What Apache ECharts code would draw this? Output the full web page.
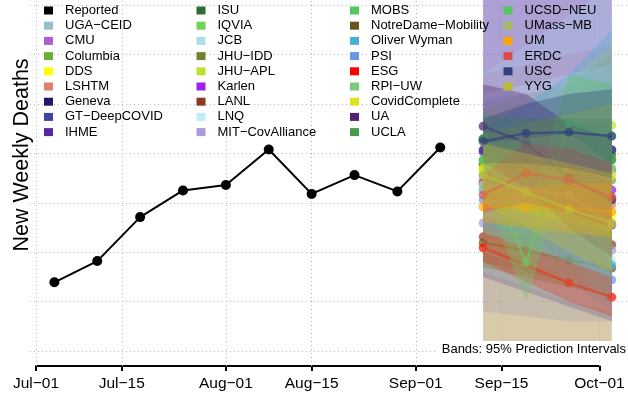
<!DOCTYPE html>
<html>
<head>
<meta charset="utf-8">
<script src="https://cdn.jsdelivr.net/npm/echarts@6/dist/echarts.min.js"></script>
<style>html,body{margin:0;padding:0;background:#fff}#c{width:628px;height:400px}</style>
</head>
<body>
<div id="c"></div>
<script>
// ---------- DATA ----------
const reportedDates = ['2020-07-04','2020-07-11','2020-07-18','2020-07-25','2020-08-01','2020-08-08','2020-08-15','2020-08-22','2020-08-29','2020-09-05'];
const reportedValues = [139, 182, 271, 325, 336, 408, 318, 356, 323, 412];

const forecastDates = ['2020-09-12','2020-09-19','2020-09-26','2020-10-03'];

const modelNames = ['UGA\u2212CEID','CMU','Columbia','DDS','LSHTM','Geneva','GT\u2212DeepCOVID','IHME',
  'ISU','IQVIA','JCB','JHU\u2212IDD','JHU\u2212APL','Karlen','LANL','LNQ','MIT\u2212CovAlliance',
  'MOBS','NotreDame\u2212Mobility','Oliver Wyman','PSI','ESG','RPI\u2212UW','CovidComplete','UA','UCLA',
  'UCSD\u2212NEU','UMass\u2212MB','UM','ERDC','USC','YYG'];
const modelColors = ['#96C1CC','#AD5FD5','#6DAF35','#FFFF00','#E0826A','#2A1466','#3C45A0','#5B27A0',
  '#2E6B36','#6FD356','#ADDCEB','#75802E','#BDE22A','#A21FF0','#8C3A26','#BDEEFA','#AA99DC',
  '#56C65E','#6B5420','#4DAED6','#6A95E0','#FF0000','#7CC97A','#DDE31E','#4F2170','#469B4E',
  '#58C564','#A5BB6A','#FFA500','#DC4B4B','#333F7A','#BDBA36'];

const medianValues = [
  [336,330,320,310],[340,330,322,366],[377,360,350,346],[370,322,290,275],[346,326,310,296],
  [407,407,407,407],[429,417,407,407],[403,387,366,255],[429,417,407,397],[387,380,375,370],
  [356,346,336,326],[377,356,346,387],[366,387,420,457],[340,336,326,326],[231,225,219,215],
  [336,326,316,184],[259,245,225,204],[387,377,362,306],[219,204,184,168],[326,316,306,174],
  [306,265,204,144],[209,174,138,109],[356,346,326,306],[370,366,362,356],[455,421,350,306],
  [429,409,397,387],[387,178,462,435],[336,326,316,257],[292,290,290,282],[316,360,346,312],
  [424,441,443,435],[356,322,287,259]];
const lowerValues = [
  [150,120,90,60],[260,220,200,210],[300,270,240,220],[220,180,150,130],[15,10,5,0],
  [360,340,320,300],[280,240,200,160],[150,120,90,60],[370,340,320,300],[320,300,280,260],
  [160,130,100,80],[250,220,190,180],[300,290,300,300],[250,230,210,190],[180,160,140,120],
  [200,170,140,110],[80,70,60,60],[330,300,270,220],[170,150,130,110],[260,220,180,90],
  [250,200,140,80],[180,140,100,70],[300,280,250,220],[300,280,260,240],[380,330,250,190],
  [380,350,320,300],[330,100,380,340],[10,5,0,0],[260,250,240,230],[280,300,280,250],
  [380,380,370,350],[300,250,200,160]];
const upperValues = [
  [800,850,900,950],[450,480,510,580],[460,480,500,520],[440,420,410,400],[560,580,600,620],
  [450,470,490,510],[510,520,530,550],[800,850,900,950],[490,500,510,520],[450,460,470,480],
  [560,620,680,740],[500,520,540,600],[440,480,550,620],[430,440,450,460],[290,300,310,320],
  [520,540,560,580],[900,950,1000,1100],[450,460,470,420],[270,260,250,240],[450,500,560,650],
  [370,340,290,230],[240,210,180,150],[420,420,410,400],[440,460,480,500],[540,520,460,430],
  [480,470,470,470],[450,260,560,540],[420,430,440,380],[330,330,340,340],[360,420,410,380],
  [470,500,520,530],[420,400,380,360]];

const tickDates = ['2020-07-01','2020-07-15','2020-08-01','2020-08-15','2020-09-01','2020-09-15','2020-10-01'];
const tickLabels = ['Jul\u221201','Jul\u221215','Aug\u221201','Aug\u221215','Sep\u221201','Sep\u221215','Oct\u221201'];
const gridValues = [0,100,200,300,400,500,600,700];

// ---------- HELPERS ----------
const FONT = '"Liberation Sans", Arial, Helvetica, sans-serif';
const BAND_ALPHA = 0.35;
function dayOf(s){const p=s.split('-').map(Number);return (Date.UTC(p[0],p[1]-1,p[2])-Date.UTC(2020,6,1))/86400000;}
function rgba(hex,a){const n=parseInt(hex.slice(1),16);return 'rgba('+(n>>16&255)+','+(n>>8&255)+','+(n&255)+','+a+')';}
const tickDays = tickDates.map(dayOf);
const fDays = forecastDates.map(dayOf);

const series = [];
series.push({type:'line',name:'__grid',data:[],xAxisIndex:0,yAxisIndex:0,silent:true,z:1,
  markLine:{silent:true,symbol:'none',animation:false,label:{show:false},
    lineStyle:{color:'#b8b8b8',type:[1,3],width:1},
    data:[...gridValues.map(v=>({yAxis:v})),...tickDays.map(d=>({xAxis:d}))]}});

series.push({type:'line',name:'Reported',xAxisIndex:0,yAxisIndex:0,z:5,
  data:reportedDates.map((d,i)=>[dayOf(d),reportedValues[i]]),
  symbol:'circle',symbolSize:10,lineStyle:{color:'#000',width:2},itemStyle:{color:'#000'}});

modelNames.forEach((name,i)=>{
  const c = modelColors[i];
  series.push({type:'custom',name:'__band'+i,xAxisIndex:0,yAxisIndex:0,z:10+2*i,silent:true,clip:true,
    data:fDays.map((d,k)=>[d,lowerValues[i][k],upperValues[i][k]]),
    encode:{x:0,y:[1,2]},
    renderItem:(params,api)=>{
      if(params.dataIndex!==0) return;
      const up=[], lo=[];
      for(let k=0;k<fDays.length;k++){
        up.push(api.coord([fDays[k],upperValues[i][k]]));
        lo.push(api.coord([fDays[k],lowerValues[i][k]]));
      }
      return {type:'polygon',shape:{points:up.concat(lo.reverse())},style:{fill:rgba(c,BAND_ALPHA)}};
    }});
  series.push({type:'line',name:name,xAxisIndex:0,yAxisIndex:0,z:11+2*i,
    data:fDays.map((d,k)=>[d,medianValues[i][k]]),symbol:'circle',symbolSize:9,
    lineStyle:{color:c,width:2.5,opacity:0.7},itemStyle:{color:c,opacity:0.7}});
});

const allNames = ['Reported'].concat(modelNames);
const allColors = ['#000000'].concat(modelColors);
const colSplits = [[0,9],[9,18],[18,27],[27,33]];
const colLefts = [44,196.5,350,503.5];
const legends = colSplits.map((s,ci)=>({
  orient:'vertical',left:colLefts[ci],top:4,padding:0,itemWidth:9,itemHeight:8,itemGap:2.2,
  selectedMode:false,icon:'rect',z:200,
  textStyle:{fontSize:13,color:'#000',fontFamily:FONT,padding:[0,0,0,7]},
  data:allNames.slice(s[0],s[1]).map((n,k)=>({name:n,icon:'rect',itemStyle:{color:allColors[s[0]+k],opacity:1}}))
}));

const chart = echarts.init(document.getElementById('c'),null,{renderer:'canvas'});
chart.setOption({
  animation:false,
  backgroundColor:'#fff',
  grid:[{left:30,right:0,top:0,bottom:34},{left:36,right:28.5,top:0,bottom:34}],
  xAxis:[
    {gridIndex:0,type:'value',min:(30-36)/6.125,max:92+28.5/6.125,show:false},
    {gridIndex:1,type:'value',min:0,max:92,
      axisLine:{show:true,lineStyle:{color:'#000',width:2}},
      axisTick:{show:true,customValues:tickDays,length:5,lineStyle:{color:'#000',width:2}},
      axisLabel:{show:true,customValues:tickDays,margin:10,fontSize:15.5,color:'#000',fontFamily:FONT,
        formatter:v=>{const k=tickDays.indexOf(v);return k>=0?tickLabels[k]:'';}},
      splitLine:{show:false}}
  ],
  yAxis:[
    {gridIndex:0,type:'value',min:-30.4,max:710.5,show:false},
    {gridIndex:1,type:'value',min:0,max:1,show:false}
  ],
  legend:legends,
  graphic:[
    {type:'text',x:22,y:155,rotation:Math.PI/2,z:300,
      style:{text:'New Weekly Deaths',font:'21.5px '+FONT,fill:'#000',align:'center',verticalAlign:'middle'}},
    {type:'rect',shape:{x:437,y:341,width:191,height:17},style:{fill:'#fff'},z:300},
    {type:'text',x:626,y:349.5,z:301,
      style:{text:'Bands: 95% Prediction Intervals',font:'13px '+FONT,fill:'#000',align:'right',verticalAlign:'middle'}}
  ],
  series:series
});
</script>
</body>
</html>
